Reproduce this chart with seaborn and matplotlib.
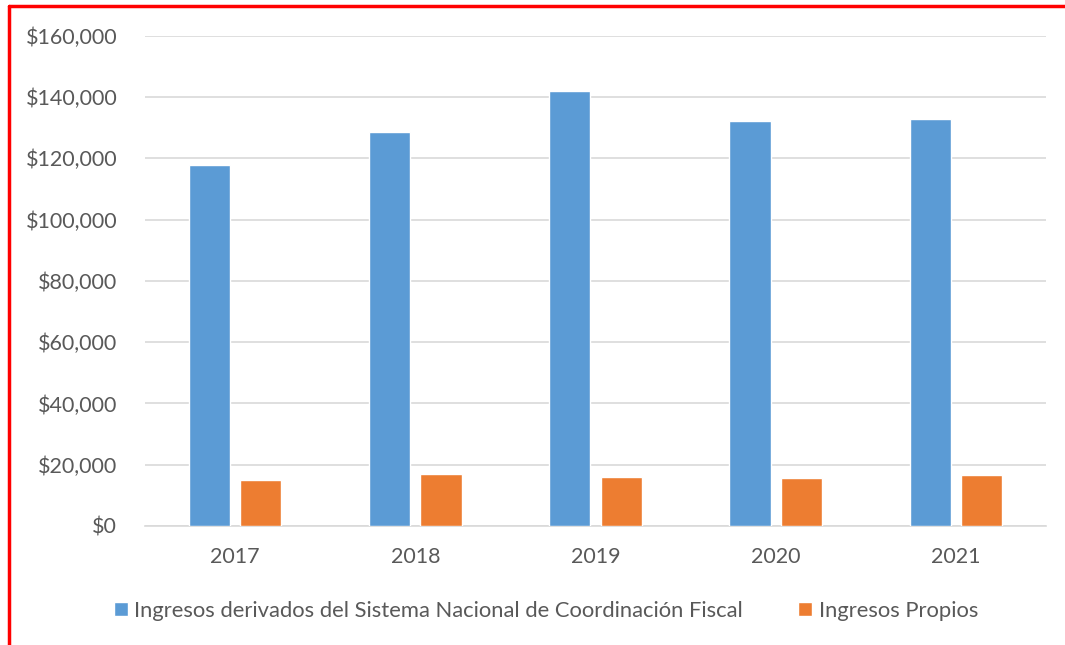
import pandas as pd
import seaborn as sns
import matplotlib.pyplot as plt
from matplotlib.lines import Line2D
from matplotlib.ticker import FuncFormatter

years = ["2017", "2018", "2019", "2020", "2021"]
federal = [117800, 128500, 141900, 132300, 132700]
propios = [14900, 17000, 16000, 15600, 16550]
series_names = ["Ingresos derivados del Sistema Nacional de Coordinación Fiscal", "Ingresos Propios"]
colors = ["#5B9BD5", "#ED7D31"]

df = pd.DataFrame({
    "Año": years * 2,
    "Monto": federal + propios,
    "Serie": [series_names[0]] * len(years) + [series_names[1]] * len(years),
})

sns.set_style("white")
plt.rcParams["font.family"] = ["Lato", "DejaVu Sans"]

fig = plt.figure(figsize=(10.65, 6.45), dpi=100)
ax = fig.add_axes([145 / 1065, 1 - 526 / 645, (1046 - 145) / 1065, (526 - 35.6) / 645])

sns.barplot(data=df, x="Año", y="Monto", hue="Serie", palette=colors,
            width=0.57, gap=0.2, ax=ax, saturation=1, zorder=3)

ax.set_ylim(0, 160000)
ax.set_yticks(range(0, 160001, 20000))
ax.yaxis.set_major_formatter(FuncFormatter(lambda v, p: f"${v:,.0f}"))
ax.grid(axis="y", color="#D9D9D9", linewidth=1.2, zorder=0)
ax.set_axisbelow(True)
for s in ["top", "right", "left"]:
    ax.spines[s].set_visible(False)
ax.spines["bottom"].set_color("#D9D9D9")
ax.spines["bottom"].set_linewidth(1.2)
ax.set_xlabel("")
ax.set_ylabel("")
ax.tick_params(axis="both", length=0, labelsize=15.5, colors="#595959")
ax.tick_params(axis="y", pad=20)
ax.tick_params(axis="x", pad=15)

ax.legend(loc="upper center", bbox_to_anchor=(0.445, -0.112), ncol=2, frameon=False,
          fontsize=15.8, labelcolor="#595959", handlelength=0.65, handleheight=0.65,
          handletextpad=0.3, columnspacing=2.5)

# red frame on left and top edges
fig.add_artist(Line2D([9 / 1065, 9 / 1065], [0, 1 - 6 / 645], color="red", linewidth=2.5))
fig.add_artist(Line2D([9 / 1065, 1], [1 - 6 / 645, 1 - 6 / 645], color="red", linewidth=2.5))

fig.savefig("out.png", dpi=100)
